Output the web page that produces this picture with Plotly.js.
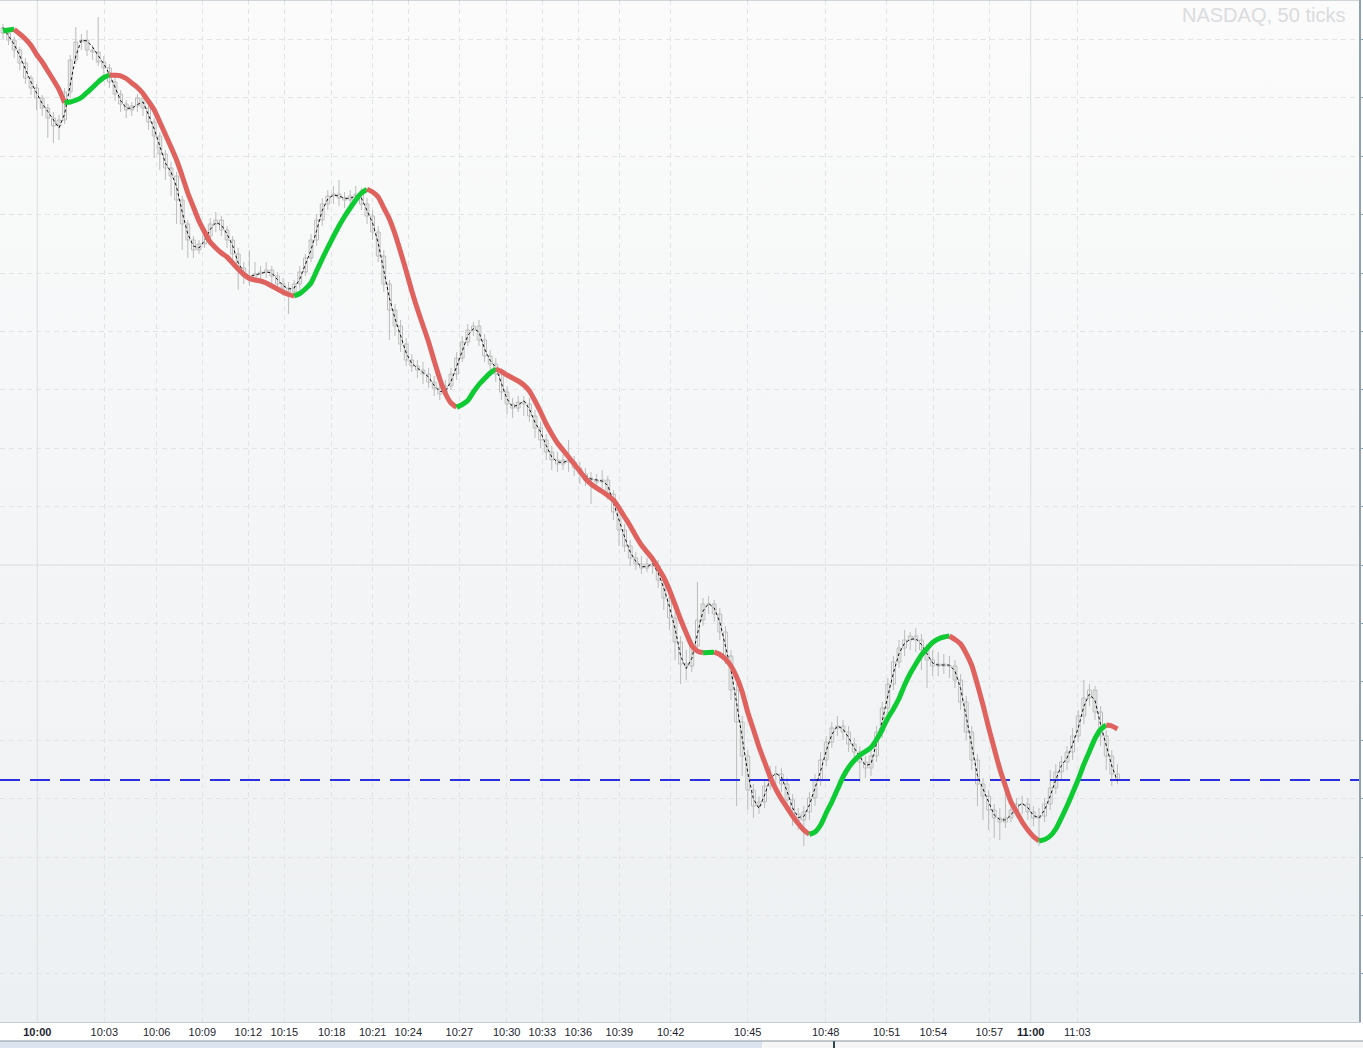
<!DOCTYPE html>
<html>
<head>
<meta charset="utf-8">
<script src="https://cdn.plot.ly/plotly-3.0.1.min.js"></script>
<style>html,body{margin:0;padding:0;background:#fff;}#chart{width:1363px;height:1048px;}</style>
</head>
<body>
<div id="chart"></div>
<script>
// ---- tick labels (time axis of a 50-tick chart; positions are bar positions) ----
const tickLabels = ["10:00","10:03","10:06","10:09","10:12","10:15","10:18","10:21","10:24","10:27","10:30",
  "10:33","10:36","10:39","10:42","10:45","10:48","10:51","10:54","10:57","11:00","11:03"];
const tickPos = [6.125,18.09,27.45,35.59,43.80,50.23,58.70,66.02,72.38,81.48,89.95,
  96.30,102.73,110.05,119.23,132.98,146.91,157.80,166.13,176.13,183.52,191.84];

// ---- OHLC bars ----
const open = [
2997.2,2996.7,2996.0,2995.0,2993.7,2992.2,2991.2,2990.2,2989.2,2988.2,
2987.4,2988.0,2990.8,2994.0,2995.8,2996.0,2995.0,2994.8,2993.8,2993.2,
2991.8,2990.6,2989.6,2989.0,2989.4,2990.2,2989.2,2987.8,2986.4,2984.6,
2983.2,2982.4,2980.0,2977.6,2976.0,2975.0,2975.6,2976.4,2977.6,2978.0,
2977.0,2976.0,2974.6,2973.2,2972.4,2972.2,2972.6,2972.8,2973.0,2972.4,
2971.6,2971.2,2970.8,2971.6,2972.8,2974.2,2976.0,2978.0,2979.6,2980.4,
2980.6,2980.2,2980.0,2980.4,2980.6,2979.6,2978.4,2976.8,2974.4,2971.6,
2969.0,2967.4,2965.6,2964.0,2963.4,2963.0,2962.6,2961.8,2961.2,2960.6,
2961.4,2962.6,2964.2,2965.8,2967.0,2967.4,2966.0,2964.4,2963.6,2962.6,
2960.8,2959.6,2959.2,2959.8,2959.6,2958.4,2957.2,2956.0,2954.8,2954.0,
2953.6,2954.0,2953.8,2953.2,2952.6,2952.2,2952.0,2951.8,2952.0,2950.6,
2948.8,2947.0,2945.4,2944.2,2943.6,2943.2,2943.6,2943.4,2942.0,2940.2,
2938.2,2935.8,2933.6,2933.4,2935.4,2938.0,2939.6,2939.6,2938.6,2936.8,
2934.4,2931.0,2927.8,2924.4,2921.0,2919.4,2919.8,2921.4,2922.6,2922.6,
2921.6,2920.0,2918.6,2918.0,2918.8,2920.2,2922.0,2924.0,2925.8,2927.2,
2927.4,2926.8,2925.6,2924.8,2923.8,2923.2,2924.4,2926.8,2929.2,2931.6,
2933.8,2935.2,2936.0,2936.4,2936.0,2935.0,2934.0,2933.4,2933.6,2933.4,
2933.4,2932.0,2929.8,2926.8,2924.0,2921.6,2920.4,2919.0,2918.2,2917.8,
2918.2,2919.0,2919.6,2919.6,2918.8,2918.2,2918.4,2919.6,2921.2,2922.8,
2923.8,2924.8,2926.4,2928.4,2930.2,2931.0,2928.8,2926.4,2924.4,2922.6];
const high = [
2997.6,2996.9,2996.3,2995.3,2994.2,2992.5,2991.6,2990.5,2989.6,2988.8,
2988.5,2991.2,2994.5,2997.3,2996.6,2997.0,2995.5,2998.3,2994.4,2993.6,
2992.5,2991.0,2990.0,2989.8,2990.6,2990.4,2989.6,2988.2,2986.8,2985.0,
2983.8,2982.8,2980.4,2978.0,2976.4,2976.0,2977.0,2978.2,2978.8,2978.4,
2977.4,2976.4,2975.2,2973.8,2975.0,2973.8,2973.4,2973.8,2973.4,2972.8,
2972.2,2971.8,2972.0,2973.4,2974.6,2976.6,2978.6,2980.2,2981.0,2981.4,
2982.0,2980.8,2981.0,2981.4,2981.2,2980.2,2979.0,2977.4,2975.0,2972.0,
2969.6,2968.0,2966.2,2964.6,2964.0,2963.8,2963.2,2962.4,2962.0,2962.0,
2963.2,2964.8,2966.4,2967.6,2967.8,2968.0,2966.6,2965.0,2964.2,2963.2,
2961.4,2960.2,2960.4,2960.4,2960.2,2959.0,2957.8,2956.6,2955.4,2954.8,
2954.6,2956.0,2954.4,2953.8,2953.2,2952.8,2952.6,2953.0,2952.4,2951.0,
2949.4,2947.6,2946.0,2944.8,2944.4,2944.2,2944.4,2944.0,2942.6,2940.8,
2938.8,2936.4,2935.0,2936.0,2941.8,2940.2,2940.4,2940.0,2939.2,2937.4,
2935.0,2931.6,2928.4,2925.0,2921.6,2920.4,2922.0,2923.4,2923.4,2923.2,
2922.2,2920.6,2919.2,2919.4,2920.8,2922.6,2924.8,2926.4,2927.8,2928.4,
2928.0,2927.4,2926.2,2925.4,2924.4,2925.2,2927.4,2929.8,2932.2,2934.4,
2936.0,2937.0,2936.8,2937.2,2936.6,2935.6,2935.0,2934.8,2934.6,2934.4,
2934.0,2932.6,2930.4,2927.4,2924.6,2922.2,2921.0,2919.6,2919.2,2921.0,
2920.0,2920.2,2920.4,2920.2,2919.4,2919.2,2920.2,2923.0,2923.6,2924.4,
2925.4,2927.2,2929.0,2932.0,2931.6,2931.4,2929.4,2927.0,2925.0,2923.6];
const low = [
2996.1,2995.5,2994.2,2993.0,2991.6,2990.5,2989.0,2988.4,2986.2,2985.7,
2986.0,2987.6,2990.2,2993.6,2995.0,2994.4,2994.0,2993.4,2992.5,2991.2,
2989.9,2988.8,2988.2,2988.4,2988.8,2988.4,2987.0,2984.2,2983.0,2982.0,
2980.4,2977.6,2975.0,2974.2,2974.2,2974.6,2975.2,2976.0,2976.8,2976.4,
2975.2,2973.8,2971.0,2971.6,2971.4,2971.8,2972.0,2972.2,2971.6,2970.8,
2970.4,2968.6,2970.2,2971.0,2972.4,2973.8,2975.4,2977.4,2979.0,2979.6,
2979.4,2979.2,2979.4,2979.6,2979.0,2977.6,2976.0,2973.8,2970.8,2966.0,
2966.4,2964.8,2963.4,2962.8,2962.2,2961.6,2961.2,2960.4,2960.0,2960.2,
2961.0,2962.0,2963.8,2965.4,2966.4,2965.4,2963.8,2962.8,2961.8,2960.0,
2958.6,2958.2,2958.8,2958.4,2957.8,2956.2,2955.2,2954.0,2953.0,2952.8,
2953.0,2952.8,2952.4,2951.6,2951.4,2949.6,2951.0,2951.2,2950.0,2948.0,
2945.4,2944.8,2943.4,2943.0,2942.6,2942.8,2942.6,2941.2,2939.0,2937.0,
2934.0,2931.6,2932.0,2932.8,2935.0,2937.4,2938.6,2937.8,2936.0,2933.6,
2930.0,2919.4,2922.4,2919.0,2918.2,2918.6,2919.2,2921.0,2921.6,2920.8,
2919.2,2917.4,2917.0,2915.4,2918.0,2919.4,2921.4,2923.4,2925.2,2926.4,
2926.0,2924.8,2924.0,2921.8,2922.2,2922.4,2923.8,2926.2,2928.6,2931.0,
2933.2,2934.4,2935.0,2934.8,2933.0,2931.2,2932.4,2932.4,2932.6,2932.2,
2931.2,2929.0,2926.0,2923.0,2919.4,2918.0,2917.0,2916.2,2916.0,2917.2,
2917.8,2918.4,2918.6,2918.0,2917.4,2915.4,2917.8,2919.0,2920.6,2922.0,
2923.0,2924.0,2925.8,2927.6,2929.4,2928.0,2925.4,2923.0,2921.4,2921.6];
const close = [
2996.7,2996.0,2995.0,2993.7,2992.2,2991.2,2990.2,2989.2,2988.2,2987.4,
2988.0,2990.8,2994.0,2995.8,2996.0,2995.0,2994.8,2993.8,2993.2,2991.8,
2990.6,2989.6,2989.0,2989.4,2990.2,2989.2,2987.8,2986.4,2984.6,2983.2,
2982.4,2980.0,2977.6,2976.0,2975.0,2975.6,2976.4,2977.6,2978.0,2977.0,
2976.0,2974.6,2973.2,2972.4,2972.2,2972.6,2972.8,2973.0,2972.4,2971.6,
2971.2,2970.8,2971.6,2972.8,2974.2,2976.0,2978.0,2979.6,2980.4,2980.6,
2980.2,2980.0,2980.4,2980.6,2979.6,2978.4,2976.8,2974.4,2971.6,2969.0,
2967.4,2965.6,2964.0,2963.4,2963.0,2962.6,2961.8,2961.2,2960.6,2961.4,
2962.6,2964.2,2965.8,2967.0,2967.4,2966.0,2964.4,2963.6,2962.6,2960.8,
2959.6,2959.2,2959.8,2959.6,2958.4,2957.2,2956.0,2954.8,2954.0,2953.6,
2954.0,2953.8,2953.2,2952.6,2952.2,2952.0,2951.8,2952.0,2950.6,2948.8,
2947.0,2945.4,2944.2,2943.6,2943.2,2943.6,2943.4,2942.0,2940.2,2938.2,
2935.8,2933.6,2933.4,2935.4,2938.0,2939.6,2939.6,2938.6,2936.8,2934.4,
2931.0,2927.8,2924.4,2921.0,2919.4,2919.8,2921.4,2922.6,2922.6,2921.6,
2920.0,2918.6,2918.0,2918.8,2920.2,2922.0,2924.0,2925.8,2927.2,2927.4,
2926.8,2925.6,2924.8,2923.8,2923.2,2924.4,2926.8,2929.2,2931.6,2933.8,
2935.2,2936.0,2936.4,2936.0,2935.0,2934.0,2933.4,2933.6,2933.4,2933.4,
2932.0,2929.8,2926.8,2924.0,2921.6,2920.4,2919.0,2918.2,2917.8,2918.2,
2919.0,2919.6,2919.6,2918.8,2918.2,2918.4,2919.6,2921.2,2922.8,2923.8,
2924.8,2926.4,2928.4,2930.2,2931.0,2928.8,2926.4,2924.4,2922.6,2922.0];

// ---- fast average (black dashed) ----
const fastMA = [
2997.25,2996.4,2995.55,2994.4,2993.0,2991.8,2990.7,2989.65,2988.85,2988.0,
2987.2,2988.6,2991.5,2994.4,2996.0,2995.9,2995.3,2994.45,2993.6,2992.6,
2991.33,2989.95,2989.2,2989.15,2989.55,2989.8,2988.5,2987.1,2985.4,2983.7,
2982.8,2981.3,2978.8,2976.6,2975.4,2975.2,2975.95,2977.05,2977.75,2977.5,
2976.6,2975.45,2973.7,2972.8,2972.35,2972.47,2972.65,2972.8,2972.7,2972.05,
2971.45,2971.1,2971.2,2972.1,2973.5,2975.0,2976.95,2978.95,2980.1,2980.5,
2980.4,2980.17,2980.17,2980.4,2980.2,2979.0,2977.7,2975.7,2973.1,2970.2,
2968.15,2966.4,2964.7,2963.65,2963.2,2962.75,2962.3,2961.45,2960.85,2960.9,
2961.85,2963.33,2965.0,2966.45,2967.15,2966.8,2965.1,2963.95,2963.25,2961.7,
2960.1,2959.33,2959.5,2959.93,2959.1,2957.75,2956.8,2955.45,2954.3,2953.8,
2953.75,2953.95,2953.6,2953.0,2952.45,2952.1,2952.0,2951.9,2951.45,2949.65,
2948.0,2946.3,2944.8,2943.85,2943.33,2943.33,2943.65,2942.7,2941.2,2939.35,
2937.15,2934.4,2933.15,2934.15,2936.6,2938.9,2939.65,2939.2,2937.8,2935.55,
2933.0,2929.7,2926.4,2922.7,2920.1,2919.15,2920.5,2922.1,2922.67,2922.3,
2920.9,2919.2,2918.25,2918.35,2919.5,2921.1,2922.9,2924.9,2926.55,2927.4,
2927.1,2926.25,2925.2,2924.35,2923.45,2923.6,2925.65,2927.9,2930.4,2932.7,
2934.65,2935.7,2936.05,2936.15,2935.55,2934.6,2933.7,2933.5,2933.5,2933.5,
2932.9,2931.15,2928.35,2925.55,2922.45,2921.1,2919.7,2918.5,2918.05,2918.0,
2918.5,2919.3,2919.65,2919.25,2918.45,2918.2,2919.0,2920.4,2922.05,2923.45,
2924.2,2925.55,2927.2,2929.35,2930.6,2929.95,2927.55,2925.5,2923.4,2921.9];

// ---- slow average (coloured by slope) ----
const slowMA = [
2996.9,2997.0,2997.07,2996.6,2996.1,2995.45,2994.55,2993.8,2992.9,2992.0,
2991.05,2989.72,2989.8,2989.98,2990.25,2990.75,2991.25,2991.8,2992.25,2992.5,
2992.47,2992.42,2992.15,2991.7,2991.25,2990.65,2989.85,2989.0,2987.8,2986.55,
2985.3,2984.0,2982.4,2980.7,2979.3,2977.9,2976.8,2975.8,2975.2,2974.7,
2974.3,2973.7,2973.1,2972.55,2972.15,2972.0,2971.9,2971.7,2971.4,2971.1,
2970.8,2970.55,2970.4,2970.65,2971.1,2971.7,2972.9,2974.1,2975.25,2976.35,
2977.4,2978.35,2979.2,2980.0,2980.7,2981.07,2980.8,2980.3,2979.2,2978.1,
2976.6,2974.8,2972.9,2970.9,2969.1,2967.45,2965.8,2963.9,2962.1,2960.65,
2959.7,2959.27,2959.55,2959.95,2960.8,2961.55,2962.15,2962.7,2963.1,2962.85,
2962.5,2962.2,2961.9,2961.5,2960.9,2959.9,2958.8,2957.6,2956.6,2955.7,
2955.0,2954.3,2953.6,2952.9,2952.15,2951.6,2951.2,2950.85,2950.45,2950.0,
2949.2,2948.3,2947.4,2946.4,2945.5,2944.8,2944.1,2943.2,2942.25,2941.0,
2939.55,2938.05,2936.7,2935.45,2934.88,2934.72,2934.75,2934.78,2934.55,2934.1,
2933.4,2932.3,2930.8,2928.75,2927.05,2925.3,2923.8,2922.3,2921.1,2920.1,
2919.25,2918.4,2917.65,2917.0,2916.57,2916.8,2917.5,2918.7,2919.8,2921.05,
2922.3,2923.25,2923.95,2924.48,2924.85,2925.25,2926.05,2927.05,2928.2,2929.1,
2930.15,2931.5,2932.65,2933.6,2934.5,2935.15,2935.75,2936.1,2936.3,2936.4,
2936.05,2935.6,2934.65,2933.45,2931.55,2929.5,2927.25,2925.15,2923.1,2921.4,
2919.8,2918.8,2917.8,2917.0,2916.35,2915.9,2916.05,2916.4,2917.1,2918.2,
2919.4,2920.7,2922.05,2923.55,2924.85,2926.15,2927.05,2927.5,2927.4,2927.1];

const levelPrice = 2922.0;     // blue dashed level
const roundPrice = 2943.5;     // solid horizontal grid level
const gridStep = 5.84;
const yRange = [2897.8, 3000];
const xRange = [-0.5357, 242.14];

const GREEN = '#0fcb33', RED = '#e0625f', CANDLE = '#bcbcbc';
const barIndex = close.map((_, i) => i);

const traces = [];
// candle wicks (high-low) as one broken line trace
const wx = [], wy = [];
barIndex.forEach(i => { wx.push(i, i, null); wy.push(low[i], high[i], null); });
traces.push({type: 'scatter', mode: 'lines', x: wx, y: wy, connectgaps: false,
  line: {color: CANDLE, width: 1}, hoverinfo: 'skip', showlegend: false});
// hollow candle bodies (open-close)
traces.push({type: 'bar', x: barIndex,
  base: barIndex.map(i => Math.min(open[i], close[i])),
  y: barIndex.map(i => Math.abs(close[i] - open[i])),
  width: 0.68,
  marker: {color: 'rgba(252,252,252,0.85)', line: {color: CANDLE, width: 1}},
  hoverinfo: 'skip', showlegend: false});
traces.push({
  type: 'scatter', mode: 'lines', x: [xRange[0], xRange[1]], y: [levelPrice, levelPrice],
  line: {color: '#2b2fe0', width: 2, dash: '20px,10px'}, hoverinfo: 'skip', showlegend: false
});
traces.push({
  type: 'scatter', mode: 'lines', x: barIndex, y: fastMA,
  line: {color: '#111111', width: 1, dash: '3px,2.5px'}, hoverinfo: 'skip', showlegend: false
});
// slow average split by slope direction
let cur = null; const segs = [];
for (let i = 1; i < slowMA.length; i++) {
  const col = slowMA[i] >= slowMA[i - 1] ? GREEN : RED;
  if (!cur || cur.col !== col) { cur = {col: col, x: [i - 1], y: [slowMA[i - 1]]}; segs.push(cur); }
  cur.x.push(i); cur.y.push(slowMA[i]);
}
segs.forEach(s => traces.push({
  type: 'scatter', mode: 'lines', x: s.x, y: s.y,
  line: {color: s.col, width: 5, shape: 'spline', smoothing: 0.6},
  hoverinfo: 'skip', showlegend: false
}));

const gradSvg = "<svg xmlns='http://www.w3.org/2000/svg' width='10' height='200' preserveAspectRatio='none'>" +
  "<defs><linearGradient id='g' x1='0' y1='0' x2='0' y2='1'>" +
  "<stop offset='0' stop-color='#fbfbfb'/><stop offset='1' stop-color='#edf0f2'/></linearGradient></defs>" +
  "<rect width='10' height='200' fill='url(#g)'/></svg>";

const shapes = [];
tickLabels.forEach((t, k) => {
  if (t.endsWith(':00')) shapes.push({type: 'line', xref: 'x', yref: 'paper', x0: tickPos[k], x1: tickPos[k], y0: 0, y1: 1,
    line: {color: '#dcdee0', width: 1}, layer: 'below'});
});
shapes.push({type: 'line', xref: 'paper', yref: 'y', x0: 0, x1: 1, y0: roundPrice, y1: roundPrice,
  line: {color: '#dcdde0', width: 1}, layer: 'below'});
shapes.push({type: 'line', xref: 'paper', yref: 'paper', x0: 0, x1: 1, y0: 1, y1: 1,
  line: {color: '#a8b2ba', width: 1}});
// bottom scroll strip
shapes.push({type: 'rect', xref: 'paper', yref: 'paper', x0: 0, x1: 0.5607, y0: -0.0262, y1: -0.0188,
  fillcolor: '#dce5ef', line: {width: 0}});
shapes.push({type: 'rect', xref: 'paper', yref: 'paper', x0: 0.5607, x1: 1.003, y0: -0.0262, y1: -0.0188,
  fillcolor: '#f6f6f6', line: {width: 0}});
shapes.push({type: 'line', xref: 'paper', yref: 'paper', x0: 0, x1: 1.003, y0: -0.0186, y1: -0.0186,
  line: {color: '#8494a0', width: 1}});
shapes.push({type: 'line', xref: 'paper', yref: 'paper', x0: 0.6137, x1: 0.6137, y0: -0.0262, y1: -0.0188,
  line: {color: '#2f4550', width: 2}});

const layout = {
  width: 1363, height: 1048,
  margin: {l: 0, r: 4, t: 0, b: 26, pad: 0},
  paper_bgcolor: '#ffffff', plot_bgcolor: '#f6f7f8',
  showlegend: false, barmode: 'overlay',
  font: {family: 'Liberation Sans, Arial, sans-serif', size: 11, color: '#1e1e30'},
  xaxis: {
    range: xRange, tickmode: 'array', tickvals: tickPos,
    ticktext: tickLabels.map(t => t.endsWith(':00') ? '<b>' + t + '</b>' : t),
    showgrid: true, gridcolor: '#e2e3e5', griddash: '5px,4px', gridwidth: 1,
    showline: true, linecolor: '#c6ccd1', linewidth: 1, ticks: '', zeroline: false,
    tickfont: {size: 11, color: '#1e1e30'}, fixedrange: true
  },
  yaxis: {
    range: yRange, side: 'right', tick0: roundPrice, dtick: gridStep,
    showgrid: true, gridcolor: '#e2e4e7', griddash: '5px,4px', gridwidth: 1,
    showline: true, linecolor: '#8fa1ad', linewidth: 2, ticks: 'outside', ticklen: 5,
    tickcolor: '#8fa1ad', tickwidth: 1, showticklabels: false, zeroline: false, fixedrange: true
  },
  images: [{source: 'data:image/svg+xml;charset=utf-8,' + encodeURIComponent(gradSvg),
    xref: 'paper', yref: 'paper', x: 0, y: 1, sizex: 1, sizey: 1, sizing: 'stretch',
    xanchor: 'left', yanchor: 'top', layer: 'below'}],
  shapes: shapes,
  annotations: [{text: 'NASDAQ, 50 ticks', xref: 'paper', yref: 'paper', x: 1, y: 1,
    xanchor: 'right', yanchor: 'top', xshift: -12, yshift: -2, showarrow: false,
    font: {family: 'Liberation Sans, Arial, sans-serif', size: 20, color: '#dadcde'}}]
};

Plotly.newPlot('chart', traces, layout, {staticPlot: true, displayModeBar: false});
</script>
</body>
</html>
